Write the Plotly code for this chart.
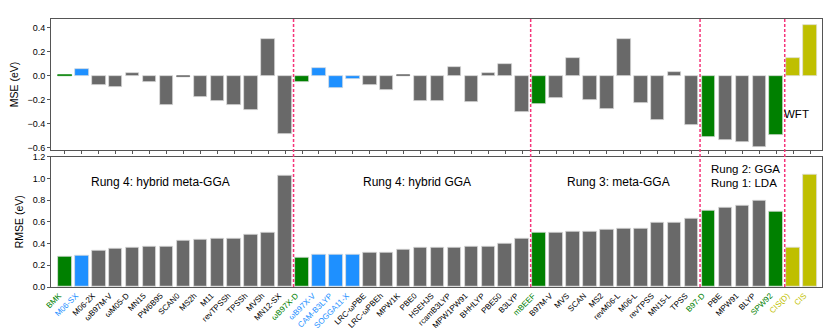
import plotly.graph_objects as go

functionals = ["BMK", "M06-SX", "M06-2X", "ωB97M-V", "ωM05-D", "MN15", "PW6B95", "SCAN0", "MS2h", "M11",
               "revTPSSh", "TPSSh", "MVSh", "MN12-SX",
               "ωB97X-D", "ωB97X-V", "CAM-B3LYP", "SOGGA11-X", "LRC-ωPBE", "LRC-ωPBEh", "MPW1K", "PBE0",
               "HSEHJS", "rcamB3LYP", "MPW1PW91", "BHHLYP", "PBE50", "B3LYP",
               "mBEEF", "B97M-V", "MVS", "SCAN", "MS2", "revM06-L", "M06-L", "revTPSS", "MN15-L", "TPSS",
               "B97-D", "PBE", "MPW91", "BLYP", "SPW92",
               "CIS(D)", "CIS"]

kinds = ["best", "new", "other", "other", "other", "other", "other", "other", "other", "other",
         "other", "other", "other", "other",
         "best", "new", "new", "new", "other", "other", "other", "other",
         "other", "other", "other", "other", "other", "other",
         "best", "other", "other", "other", "other", "other", "other", "other", "other", "other",
         "best", "other", "other", "other", "best",
         "wft", "wft"]

mse = [0.008, 0.061, -0.077, -0.093, 0.024, -0.048, -0.240, -0.013, -0.173, -0.208,
       -0.245, -0.288, 0.309, -0.488,
       -0.051, 0.064, -0.101, -0.029, -0.075, -0.117, 0.008, -0.208,
       -0.208, 0.075, -0.219, 0.024, 0.101, -0.304,
       -0.235, -0.181, 0.147, -0.205, -0.275, 0.307, -0.227, -0.365, 0.029, -0.413,
       -0.512, -0.539, -0.555, -0.595, -0.491,
       0.149, 0.429]

rmse = [0.282, 0.288, 0.332, 0.350, 0.362, 0.368, 0.371, 0.424, 0.435, 0.441,
        0.447, 0.479, 0.503, 1.026,
        0.274, 0.297, 0.297, 0.297, 0.312, 0.318, 0.341, 0.362,
        0.365, 0.365, 0.371, 0.376, 0.403, 0.444,
        0.500, 0.503, 0.512, 0.512, 0.526, 0.535, 0.538, 0.591, 0.591, 0.626,
        0.700, 0.732, 0.750, 0.791, 0.697,
        0.362, 1.032]

group_bounds = [13.5, 27.5, 37.5, 42.5]
rung_labels = ["Rung 4: hybrid meta-GGA", "Rung 4: hybrid GGA", "Rung 3: meta-GGA", "Rung 2: GGA", "Rung 1: LDA"]

palette = {"best": "#008000", "new": "#1e90ff", "other": "#696969", "wft": "#bfbf00"}
colors = [palette[k] for k in kinds]
xs = list(range(len(functionals)))
EDGE = "#dcdcdc"
# very short bars: let the fill show instead of the pale outline
mse_edges = [c if abs(v) < 0.015 else EDGE for c, v in zip(colors, mse)]

FONT = "Liberation Sans, Arial, sans-serif"

fig = go.Figure()
fig.add_trace(go.Bar(x=xs, y=mse, marker=dict(color=colors, line=dict(color=mse_edges, width=0.7)),
                     width=0.8, xaxis="x", yaxis="y", showlegend=False))
fig.add_trace(go.Bar(x=xs, y=rmse, marker=dict(color=colors, line=dict(color=EDGE, width=0.8)),
                     width=0.8, xaxis="x2", yaxis="y2", showlegend=False))

ticktext = [f'<span style="color:{c if k != "other" else "black"}">{f}</span>'
            for f, c, k in zip(functionals, colors, kinds)]

xr = [-0.82, 44.7]
axcommon = dict(showline=True, linecolor="#555555", linewidth=1, mirror=True, zeroline=False,
                showgrid=False)

fig.update_layout(
    width=831, height=328,
    margin=dict(l=41, r=17, t=6, b=43),
    paper_bgcolor="white", plot_bgcolor="white",
    font=dict(family=FONT, size=9, color="black"),
    bargap=0,
    xaxis=dict(domain=[0, 1], range=xr, anchor="y", tickvals=xs, showticklabels=False,
               ticks="outside", ticklen=3, tickcolor="#555555", **axcommon),
    yaxis=dict(domain=[0.5115, 1], range=[-0.618, 0.475], anchor="x",
               tickvals=[-0.6, -0.4, -0.2, 0.0, 0.2, 0.4], tickformat=".1f",
               ticks="outside", ticklen=3, tickcolor="#555555", tickfont=dict(size=9),
               title=dict(text="MSE (eV)", font=dict(size=10.5), standoff=6), **axcommon),
    xaxis2=dict(domain=[0, 1], range=xr, anchor="y2", tickvals=xs, ticktext=ticktext,
                tickangle=-45, ticks="", tickfont=dict(size=8), ticklabelshift=-6,
                ticklabelstandoff=0, **axcommon),
    yaxis2=dict(domain=[0, 0.4864], range=[0, 1.2], anchor="x2",
                tickvals=[0, 0.2, 0.4, 0.6, 0.8, 1.0, 1.2], tickformat=".1f",
                ticks="outside", ticklen=3, tickcolor="#555555", tickfont=dict(size=9),
                title=dict(text="RMSE (eV)", font=dict(size=10.5), standoff=6), **axcommon),
)

for b in group_bounds:
    fig.add_shape(type="line", xref="x", yref="paper", x0=b, x1=b, y0=0, y1=1,
                  line=dict(color="#f5357a", width=1.5, dash="3px,2px"))

ann_pos = [(5.65, 0.962, "center", 12), (20.8, 0.962, "center", 12), (32.7, 0.962, "center", 12),
           (38.05, 1.083, "left", 11.5), (38.05, 0.955, "left", 11.5)]
for (x, y, al, fs), txt in zip(ann_pos, rung_labels):
    fig.add_annotation(x=x, y=y, xref="x2", yref="y2", text=txt, showarrow=False,
                       xanchor=al, font=dict(size=fs, family=FONT))
fig.add_annotation(x=43.2, y=-0.321, xref="x", yref="y", text="WFT", showarrow=False,
                   font=dict(size=11.5, family=FONT))

fig.write_html("out.html")
